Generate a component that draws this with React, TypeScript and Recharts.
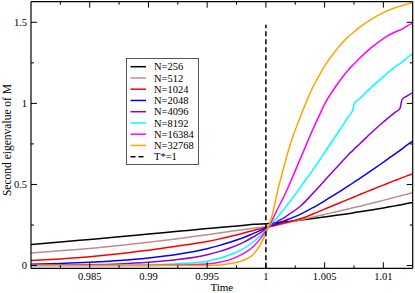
import React from 'react';
import { LineChart, Line, XAxis, YAxis, Legend } from 'recharts';

const TIME = [0.98, 0.9825, 0.985, 0.9875, 0.99, 0.9925, 0.995, 0.996, 0.997, 0.998, 0.999, 0.9995, 1.0, 1.0005, 1.001, 1.0015, 1.002, 1.003, 1.004, 1.0048, 1.005, 1.006, 1.007, 1.0074, 1.0075, 1.008, 1.009, 1.01, 1.011, 1.0114, 1.0116, 1.012, 1.0125];

const N256 = [0.13, 0.145, 0.161, 0.177, 0.194, 0.211, 0.228, 0.235, 0.241, 0.247, 0.254, 0.256, 0.258, 0.261, 0.265, 0.268, 0.272, 0.281, 0.29, 0.298, 0.3, 0.31, 0.32, 0.324, 0.326, 0.331, 0.343, 0.355, 0.368, 0.373, 0.376, 0.382, 0.389];
const N512 = [0.078, 0.091, 0.105, 0.123, 0.143, 0.165, 0.19, 0.2, 0.211, 0.221, 0.231, 0.235, 0.239, 0.244, 0.251, 0.259, 0.267, 0.283, 0.299, 0.312, 0.315, 0.332, 0.349, 0.356, 0.358, 0.366, 0.384, 0.402, 0.421, 0.429, 0.433, 0.44, 0.449];
const N1024 = [0.031, 0.041, 0.054, 0.072, 0.095, 0.12, 0.148, 0.163, 0.18, 0.198, 0.218, 0.226, 0.234, 0.243, 0.252, 0.261, 0.27, 0.29, 0.318, 0.342, 0.348, 0.378, 0.408, 0.42, 0.423, 0.438, 0.467, 0.496, 0.525, 0.536, 0.542, 0.553, 0.565];
const N2048 = [0.008, 0.013, 0.02, 0.031, 0.047, 0.07, 0.104, 0.123, 0.145, 0.17, 0.2, 0.215, 0.23, 0.246, 0.259, 0.273, 0.288, 0.319, 0.357, 0.39, 0.399, 0.444, 0.49, 0.509, 0.514, 0.538, 0.587, 0.637, 0.688, 0.709, 0.72, 0.742, 0.767];
const N4096 = [0.002, 0.003, 0.005, 0.01, 0.02, 0.037, 0.067, 0.086, 0.11, 0.14, 0.179, 0.201, 0.225, 0.25, 0.272, 0.293, 0.317, 0.37, 0.445, 0.508, 0.524, 0.603, 0.682, 0.71, 0.717, 0.751, 0.82, 0.885, 0.945, 0.966, 1.025, 1.045, 1.067];
const N8192 = [0, 0.001, 0.001, 0.002, 0.005, 0.011, 0.027, 0.043, 0.068, 0.1, 0.15, 0.182, 0.218, 0.262, 0.3, 0.345, 0.39, 0.49, 0.59, 0.675, 0.697, 0.805, 0.915, 0.96, 0.995, 1.03, 1.1, 1.165, 1.225, 1.245, 1.255, 1.28, 1.305];
const N16384 = [0, 0, 0, 0.001, 0.001, 0.003, 0.009, 0.02, 0.038, 0.07, 0.122, 0.163, 0.212, 0.275, 0.35, 0.42, 0.5, 0.67, 0.84, 0.965, 0.995, 1.11, 1.205, 1.236, 1.243, 1.28, 1.345, 1.4, 1.44, 1.452, 1.458, 1.477, 1.495];
const N32768 = [0, 0, 0, 0, 0, 0, 0.001, 0.004, 0.012, 0.03, 0.075, 0.125, 0.2, 0.3, 0.46, 0.6, 0.73, 0.93, 1.1, 1.205, 1.23, 1.33, 1.41, 1.434, 1.44, 1.47, 1.52, 1.56, 1.59, 1.599, 1.603, 1.612, 1.622];

const TSTAR_T = [1, 1];
const TSTAR_V = [-0.017, 1.485];

const X_MAJOR = [0.985, 0.99, 0.995, 1, 1.005, 1.01];
const X_MINOR = [0.9825, 0.9875, 0.9925, 0.9975, 1.0025, 1.0075];
const Y_MAJOR = [0, 0.5, 1, 1.5];
const Y_MINOR = [0.25, 0.75, 1.25];

const X_DOMAIN = [0.98, 1.0125];
const Y_DOMAIN = [-0.017, 1.627];

const SERIES = [
  { key: 'n256', name: 'N=256', color: '#000000', values: N256 },
  { key: 'n512', name: 'N=512', color: '#bc8f8f', values: N512 },
  { key: 'n1024', name: 'N=1024', color: '#ff0000', values: N1024 },
  { key: 'n2048', name: 'N=2048', color: '#0000ff', values: N2048 },
  { key: 'n4096', name: 'N=4096', color: '#9400d3', values: N4096 },
  { key: 'n8192', name: 'N=8192', color: '#00ffff', values: N8192 },
  { key: 'n16384', name: 'N=16384', color: '#ff00ff', values: N16384 },
  { key: 'n32768', name: 'N=32768', color: '#ffa500', values: N32768 },
];

const ROWS = TIME.map((t, i) => {
  const r: any = { t };
  SERIES.forEach((s) => { r[s.key] = s.values[i]; });
  return r;
});
const TSTAR_ROWS = TSTAR_T.map((t, i) => ({ t, v: TSTAR_V[i] }));

const FONT = "'Liberation Serif', 'Times New Roman', Times, serif";
const inList = (v: number, arr: number[]) => arr.some((m) => Math.abs(m - v) < 1e-9);
const X_TICKS = [...X_MINOR, ...X_MAJOR].sort((a, b) => a - b);
const Y_TICKS = [...Y_MINOR, ...Y_MAJOR].sort((a, b) => a - b);

const BottomTick = (p: any) => {
  const major = inList(p.payload.value, X_MAJOR);
  return (
    <g>
      <line x1={p.x} x2={p.x} y1={p.y} y2={p.y - (major ? 6 : 3)} stroke="#000" strokeWidth={1} />
      {major && (
        <text x={p.x} y={p.y + 12} textAnchor="middle" style={{ fontFamily: FONT, fontSize: 10.5 }} fill="#000">
          {String(p.payload.value)}
        </text>
      )}
    </g>
  );
};
const TopTick = (p: any) => {
  const major = inList(p.payload.value, X_MAJOR);
  return <line x1={p.x} x2={p.x} y1={p.y} y2={p.y + (major ? 6 : 3)} stroke="#000" strokeWidth={1} />;
};
const LeftTick = (p: any) => {
  const major = inList(p.payload.value, Y_MAJOR);
  return (
    <g>
      <line x1={p.x} x2={p.x + (major ? 6 : 3)} y1={p.y} y2={p.y} stroke="#000" strokeWidth={1} />
      {major && (
        <text x={p.x - 4} y={p.y + 3.6} textAnchor="end" style={{ fontFamily: FONT, fontSize: 10.5 }} fill="#000">
          {String(p.payload.value)}
        </text>
      )}
    </g>
  );
};
const RightTick = (p: any) => {
  const major = inList(p.payload.value, Y_MAJOR);
  return <line x1={p.x} x2={p.x - (major ? 6 : 3)} y1={p.y} y2={p.y} stroke="#000" strokeWidth={1} />;
};

const LegendBox = () => {
  const items = [
    ...SERIES.map((s) => ({ name: s.name, color: s.color, dash: undefined as any })),
    { name: 'T*=1', color: '#000000', dash: '5 3' },
  ];
  return (
    <svg width={74} height={108} style={{ display: 'block' }}>
      <rect x={0.5} y={0.5} width={72} height={106} fill="#fff" stroke="#555" strokeWidth={1} />
      {items.map((it, i) => {
        const cy = 8.7 + i * 11.25;
        return (
          <g key={it.name}>
            <line x1={4.5} x2={20} y1={cy} y2={cy} stroke={it.color} strokeWidth={1.5} strokeDasharray={it.dash} />
            <text x={28} y={cy + 3.7} style={{ fontFamily: FONT, fontSize: 10.5 }} fill="#000">{it.name}</text>
          </g>
        );
      })}
    </svg>
  );
};

const YLabel = (p: any) => {
  const vb = p.viewBox || { x: 0, y: 0, width: 31, height: 266 };
  const cx = 6.5;
  const cy = vb.y + vb.height / 2 + 5;
  return (
    <text x={cx} y={cy} transform={`rotate(-90, ${cx}, ${cy})`} textAnchor="middle" dominantBaseline="central" style={{ fontFamily: FONT, fontSize: 11.5 }} fill="#000">
      Second eigenvalue of M
    </text>
  );
};
const XLabel = (p: any) => {
  const vb = p.viewBox || { x: 31, y: 268, width: 382, height: 25 };
  return (
    <text x={vb.x + vb.width / 2} y={291} textAnchor="middle" style={{ fontFamily: FONT, fontSize: 11 }} fill="#000">
      Time
    </text>
  );
};

export default function App() {
  return (
    <div style={{ position: 'absolute', left: 0, top: 0, width: 415, height: 293, background: '#fff' }}>
      <LineChart width={415} height={293} data={ROWS} margin={{ top: 0, right: 0, bottom: 0, left: 0 }}>
        <XAxis dataKey="t" type="number" domain={X_DOMAIN} allowDataOverflow ticks={X_TICKS} interval={0}
          height={24.7} tickSize={0} tickMargin={0} tickLine={false} tick={<BottomTick />} axisLine={{ stroke: '#000', strokeWidth: 1.2 }}
          label={<XLabel />} />
        <XAxis xAxisId="top" orientation="top" dataKey="t" type="number" domain={X_DOMAIN} allowDataOverflow ticks={X_TICKS} interval={0}
          height={1.7} tickSize={0} tickMargin={0} tickLine={false} tick={<TopTick />} axisLine={{ stroke: '#000', strokeWidth: 1.2 }} />
        <YAxis type="number" domain={Y_DOMAIN} allowDataOverflow ticks={Y_TICKS} interval={0}
          width={31} tickSize={0} tickMargin={0} tickLine={false} tick={<LeftTick />} axisLine={{ stroke: '#000', strokeWidth: 1.2 }}
          label={<YLabel />} />
        <YAxis yAxisId="right" orientation="right" type="number" domain={Y_DOMAIN} allowDataOverflow ticks={Y_TICKS} interval={0}
          width={2.3} tickSize={0} tickMargin={0} tickLine={false} tick={<RightTick />} axisLine={{ stroke: '#000', strokeWidth: 1.2 }} />
        {SERIES.map((s) => (
          <Line key={s.key} dataKey={s.key} name={s.name} stroke={s.color} strokeWidth={1.5} type="monotone" dot={false} activeDot={false} isAnimationActive={false} />
        ))}
        <Line data={TSTAR_ROWS} dataKey="v" name="T*=1" stroke="#000" strokeWidth={1.5} strokeDasharray="5 3" type="linear" dot={false} activeDot={false} isAnimationActive={false} />
        <Legend layout="vertical" align="center" verticalAlign="middle" content={<LegendBox />}
          wrapperStyle={{ left: 126, top: 58, width: 74, height: 108 }} />
      </LineChart>
    </div>
  );
}
